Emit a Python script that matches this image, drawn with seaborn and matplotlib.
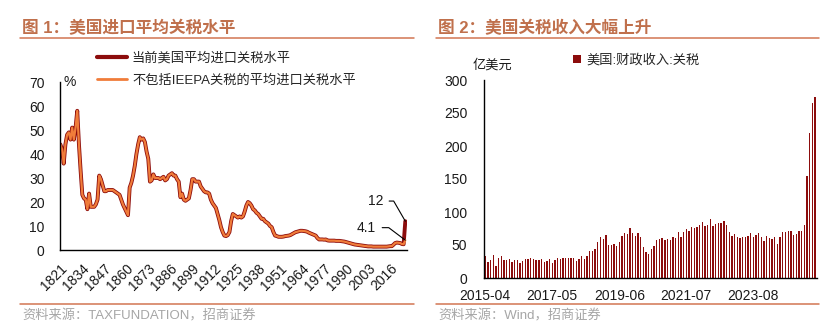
import numpy as np
import pandas as pd
import matplotlib
matplotlib.use("Agg")
import matplotlib.pyplot as plt
import seaborn as sns
from matplotlib.lines import Line2D
from matplotlib.patches import Patch

# ---------------- data ----------------
# Average US import tariff rate (%), 1821-2024
tariff_hist = [
    44, 42, 36, 44, 48, 49, 46, 51, 46, 51,            # 1821-1830
    58, 44, 33, 23, 21.5, 21, 17, 23.5, 18, 18,        # 1831-1840
    18, 19, 21, 31, 29.5, 27, 24.5, 24.5, 25, 25,      # 1841-1850
    25, 25, 24.5, 24, 23.5, 23, 21, 19, 17.5, 16,      # 1851-1860
    14.5, 26, 28, 31, 35, 40, 44, 47, 46, 46.5,        # 1861-1870
    45, 41, 38, 28.5, 29, 31.5, 30, 30, 30, 29.5,      # 1871-1880
    30, 30.5, 29, 29.5, 31, 31.5, 32, 31, 31, 29.5,    # 1881-1890
    28.5, 22, 23.5, 21, 20.5, 21, 21.5, 25, 29.5, 29.5,  # 1891-1900
    28.5, 28.5, 28.5, 26.5, 25.5, 24.5, 24, 24, 23.5, 21,  # 1901-1910
    19.5, 18.5, 17.5, 15, 12.5, 9.5, 7.5, 6, 5.8, 6.2,   # 1911-1920
    7.5, 12, 15, 14.5, 14, 13.5, 14, 13.5, 14, 16,     # 1921-1930
    18.5, 20, 19.5, 18.5, 17, 16.5, 15.5, 15, 14, 13,  # 1931-1940
    13, 12, 11.5, 11, 10, 9.5, 7.5, 6, 5.8, 5.5,       # 1941-1950
    5.5, 5.5, 5.6, 5.8, 5.9, 6, 6.2, 6.6, 7, 7.4,      # 1951-1960
    7.6, 7.8, 8, 8, 7.9, 7.8, 7.6, 7.2, 6.9, 6.6,      # 1961-1970
    6.3, 6, 5, 4.4, 4.4, 4.4, 4.3, 4.4, 4, 3.9,        # 1971-1980
    3.9, 3.9, 3.9, 3.8, 3.8, 3.8, 3.7, 3.6, 3.5, 3.3,  # 1981-1990
    3.1, 2.9, 2.7, 2.5, 2.3, 2.2, 2.1, 2, 1.9, 1.8,    # 1991-2000
    1.7, 1.6, 1.5, 1.5, 1.5, 1.4, 1.4, 1.4, 1.4, 1.4,  # 2001-2010
    1.4, 1.4, 1.4, 1.4, 1.5, 1.6, 1.6, 2.2, 2.9, 3.1,  # 2011-2020
    3.0, 2.9, 2.5, 2.4,                                # 2021-2024
]
rate_2025_current = 12.0
rate_2025_ex_ieepa = 4.1
first_year = 1821

# Monthly US customs duties receipts (100 million USD), 2015-04 .. 2025-07
customs_duties = [
    33, 24, 27, 35, 18, 30, 33, 27, 27, 29, 24, 27, 27, 23, 26, 29, 29, 30, 29, 27,
    27, 29, 24, 26, 29, 23, 27, 30, 29, 30, 30, 30, 30, 30, 26, 29, 33, 29, 33, 41,
    41, 44, 55, 62, 59, 65, 50, 50, 52, 48, 55, 64, 68, 67, 76, 68, 64, 68, 62, 47,
    39, 36, 44, 48, 58, 59, 61, 58, 59, 58, 62, 61, 70, 62, 70, 74, 71, 77, 76, 77,
    80, 85, 79, 80, 89, 79, 82, 83, 83, 86, 80, 70, 64, 67, 62, 61, 62, 62, 64, 68,
    62, 65, 68, 62, 56, 64, 61, 59, 62, 52, 62, 70, 70, 71, 71, 65, 67, 71, 71, 80,
    155, 220, 265, 275,
]
first_month = "2015-04"

legend_left = ["当前美国平均进口关税水平", "不包括IEEPA关税的平均进口关税水平"]
legend_right = "美国:财政收入:关税"
title_left = "图 1：美国进口平均关税水平"
title_right = "图 2：美国关税收入大幅上升"
source_left = "资料来源：TAXFUNDATION，招商证券"
source_right = "资料来源：Wind，招商证券"

# ---------------- frames ----------------
years = np.arange(first_year, first_year + len(tariff_hist) + 1)
rates = pd.DataFrame({
    "year": years,
    "current": tariff_hist + [rate_2025_current],
    "ex_ieepa": tariff_hist + [rate_2025_ex_ieepa],
})
months = pd.date_range(first_month, periods=len(customs_duties), freq="MS").strftime("%Y-%m")
receipts = pd.DataFrame({"month": months, "value": customs_duties})

# ---------------- style ----------------
sns.set_theme(style="white")
FAM = ["Liberation Sans", "Noto Sans CJK SC", "DejaVu Sans"]
plt.rcParams["font.family"] = FAM
plt.rcParams["axes.unicode_minus"] = False

DARK = "#8C0C0C"
ORANGE = "#F07C3A"
TITLE_C = "#C0704C"
RULE_C = "#D27552"
SRC_C = "#A6A6A6"
TXT = "#1A1A1A"

W, H = 830, 335
fig = plt.figure(figsize=(W / 100, H / 100), dpi=100)
fig.patch.set_facecolor("white")


def fx(px):
    return px / W


def fy(py):
    return 1 - py / H


# titles, rules and sources
for x0, x1, title, src in [(20, 414, title_left, source_left),
                           (436, 819, title_right, source_right)]:
    fig.text(fx(x0 + 2), fy(28), title, color=TITLE_C, fontsize=12,
             fontweight="bold", va="center", ha="left", family=FAM)
    fig.add_artist(Line2D([fx(x0), fx(x1)], [fy(38), fy(38)], color=RULE_C, lw=1.1))
    fig.add_artist(Line2D([fx(x0), fx(x1)], [fy(304), fy(304)], color=RULE_C, lw=1.1))
    fig.text(fx(x0 + 2), fy(316), src, color=SRC_C, fontsize=9.5,
             va="center", ha="left", family=FAM)

# ---------------- left: tariff rate ----------------
ax1 = fig.add_axes([fx(60), fy(250), fx(407) - fx(60), fy(82) - fy(250)])
sns.lineplot(data=rates, x="year", y="current", ax=ax1, color=DARK, lw=2.8,
             label=legend_left[0], legend=False)
sns.lineplot(data=rates, x="year", y="ex_ieepa", ax=ax1, color=ORANGE, lw=1.6,
             label=legend_left[1], legend=False)
ax1.set_xlim(first_year - 0.2, years[-1] + 1.0)
ax1.set_ylim(0, 70)
ax1.set_yticks(range(0, 71, 10))
ax1.set_xticks(years[::13])
ax1.set_xticklabels([str(y) for y in years[::13]], rotation=45, ha="right",
                    rotation_mode="anchor")
ax1.set_xticks(years, minor=True)
ax1.set_xlabel("")
ax1.set_ylabel("")
for side in ["top", "right"]:
    ax1.spines[side].set_visible(False)
for side in ["left", "bottom"]:
    ax1.spines[side].set_color("black")
    ax1.spines[side].set_linewidth(1.0)
ax1.tick_params(axis="both", which="both", direction="out", length=3, width=0.8,
                color="black", labelsize=10, labelcolor=TXT)
ax1.tick_params(axis="y", pad=8)
ax1.tick_params(axis="x", pad=5)
ax1.text(0.01, 1.0, "%", transform=ax1.transAxes, fontsize=10, color=TXT,
         ha="left", va="center")

ax1.annotate(f"{rate_2025_current:g}", xy=(years[-1], rate_2025_current),
             xytext=(-16, 14.5), textcoords="offset points", ha="right", va="center",
             fontsize=10, color=TXT,
             arrowprops=dict(arrowstyle="-", color="black", lw=0.8,
                             connectionstyle="angle,angleA=0,angleB=120,rad=0",
                             shrinkA=2, shrinkB=0))
ax1.annotate(f"{rate_2025_ex_ieepa:g}", xy=(years[-1], rate_2025_ex_ieepa),
             xytext=(-21, 9), textcoords="offset points", ha="right", va="center",
             fontsize=10, color=TXT,
             arrowprops=dict(arrowstyle="-", color="black", lw=0.8,
                             connectionstyle="angle,angleA=0,angleB=143,rad=0",
                             shrinkA=2, shrinkB=0))

handles = [Line2D([], [], color=DARK, lw=3), Line2D([], [], color=ORANGE, lw=2)]
fig.legend(handles, legend_left, loc="upper left",
           bbox_to_anchor=(fx(97), fy(52)), bbox_transform=fig.transFigure,
           frameon=False, handlelength=2.3, handletextpad=0.35, labelspacing=0.75,
           borderpad=0, borderaxespad=0, prop={"family": FAM, "size": 9.5})

# ---------------- right: customs receipts ----------------
ax2 = fig.add_axes([fx(484), fy(278), fx(817) - fx(484), fy(80) - fy(278)])
sns.barplot(data=receipts, x="month", y="value", ax=ax2, color=DARK,
            saturation=1, width=0.5, errorbar=None)
ax2.set_xlim(-0.45, len(customs_duties) - 0.25)
ax2.set_ylim(0, 300)
ax2.set_yticks(range(0, 301, 50))
tick_idx = list(range(0, len(customs_duties), 25))
ax2.set_xticks(tick_idx)
ax2.set_xticklabels([months[i] for i in tick_idx])
ax2.set_xlabel("")
ax2.set_ylabel("")
for side in ["top", "right"]:
    ax2.spines[side].set_visible(False)
for side in ["left", "bottom"]:
    ax2.spines[side].set_color("black")
    ax2.spines[side].set_linewidth(1.0)
ax2.tick_params(axis="both", which="both", direction="out", length=3, width=0.8,
                color="black", labelsize=10, labelcolor=TXT)
ax2.tick_params(axis="y", pad=9)
ax2.tick_params(axis="x", pad=5)
for p in ax2.patches:
    p.set_edgecolor("none")

fig.text(fx(473), fy(65), "亿美元", fontsize=9.5, color=TXT, va="center",
         ha="left", family=FAM)
fig.legend([Patch(facecolor=DARK, edgecolor="none")], [legend_right],
           loc="center left", bbox_to_anchor=(fx(573), fy(60)),
           bbox_transform=fig.transFigure, frameon=False, handlelength=0.6,
           handleheight=0.6, handletextpad=0.4, borderpad=0, borderaxespad=0,
           prop={"family": FAM, "size": 9.5})

fig.savefig("out.png", dpi=100, facecolor="white")
